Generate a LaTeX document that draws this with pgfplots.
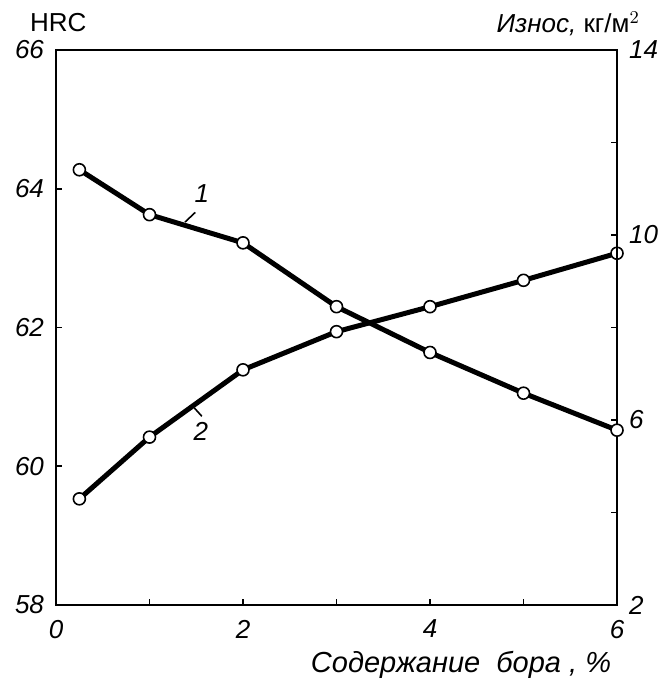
\documentclass[border=0pt]{standalone}
\usepackage{pgfplots}
\pgfplotsset{compat=1.18}
\usepackage{fontspec}
\setmainfont{Liberation Sans}
\begin{document}
\fontsize{13}{15}\selectfont
\begin{tikzpicture}
\path[use as bounding box] (-28pt,-39pt) rectangle (305pt,302.5pt);
\begin{axis}[
  scale only axis, width=280.5pt, height=277.5pt,
  xmin=0, xmax=6, ymin=58, ymax=66,
  xtick={0,1,...,6}, xticklabels={0,,2,,4,,6},
  ytick={58,60,...,66},
  tick pos=left, tick align=inside, major tick length=3pt,
  axis line style={line width=1pt},
  every tick/.style={line width=0.8pt, black},
  ticklabel style={font=\fontsize{13}{15}\selectfont\itshape},
  /pgf/number format/assume math mode=true,
  xticklabel style={yshift=-3pt},
  yticklabel style={xshift=-1.5pt},
  clip=false,
]
\addplot[line width=2.5pt, mark=*, mark size=3pt, mark options={fill=white, draw=black, line width=0.8pt, solid}]
  coordinates {(0.25,59.53)(1,60.42)(2,61.39)(3,61.94)(4,62.30)(5,62.68)(6,63.07)};
\node at (rel axis cs:0.004,1.049) {HRC};
\node at (rel axis cs:0.913,1.047) {\itshape Износ, \upshape кг/м$^2$};
\node at (rel axis cs:0.722,-0.108) {\fontsize{14.5}{16}\selectfont\itshape Содержание\ \ бора , \%};
\draw[line width=0.8pt] (axis cs:1.38,63.52) -- (axis cs:1.49,63.66);
\node[font=\itshape] at (axis cs:1.56,63.93) {1};
\draw[line width=0.8pt] (axis cs:1.48,60.84) -- (axis cs:1.56,60.72);
\node[font=\itshape] at (axis cs:1.55,60.50) {2};
\end{axis}
\begin{axis}[
  scale only axis, width=280.5pt, height=277.5pt,
  xmin=0, xmax=6, ymin=2, ymax=14,
  axis x line=none, axis y line*=right,
  ytick={2,4,...,14}, yticklabels={2,,6,,10,,14},
  tick align=inside, major tick length=3pt,
  axis line style={line width=1pt},
  every tick/.style={line width=0.8pt, black},
  ticklabel style={font=\fontsize{13}{15}\selectfont\itshape},
  /pgf/number format/assume math mode=true,
  yticklabel style={xshift=1.5pt},
  clip=false,
]
\addplot[line width=2.5pt, mark=*, mark size=3pt, mark options={fill=white, draw=black, line width=0.8pt, solid}]
  coordinates {(0.25,11.41)(1,10.44)(2,9.83)(3,8.45)(4,7.46)(5,6.58)(6,5.78)};
\end{axis}
\end{tikzpicture}
\end{document}
